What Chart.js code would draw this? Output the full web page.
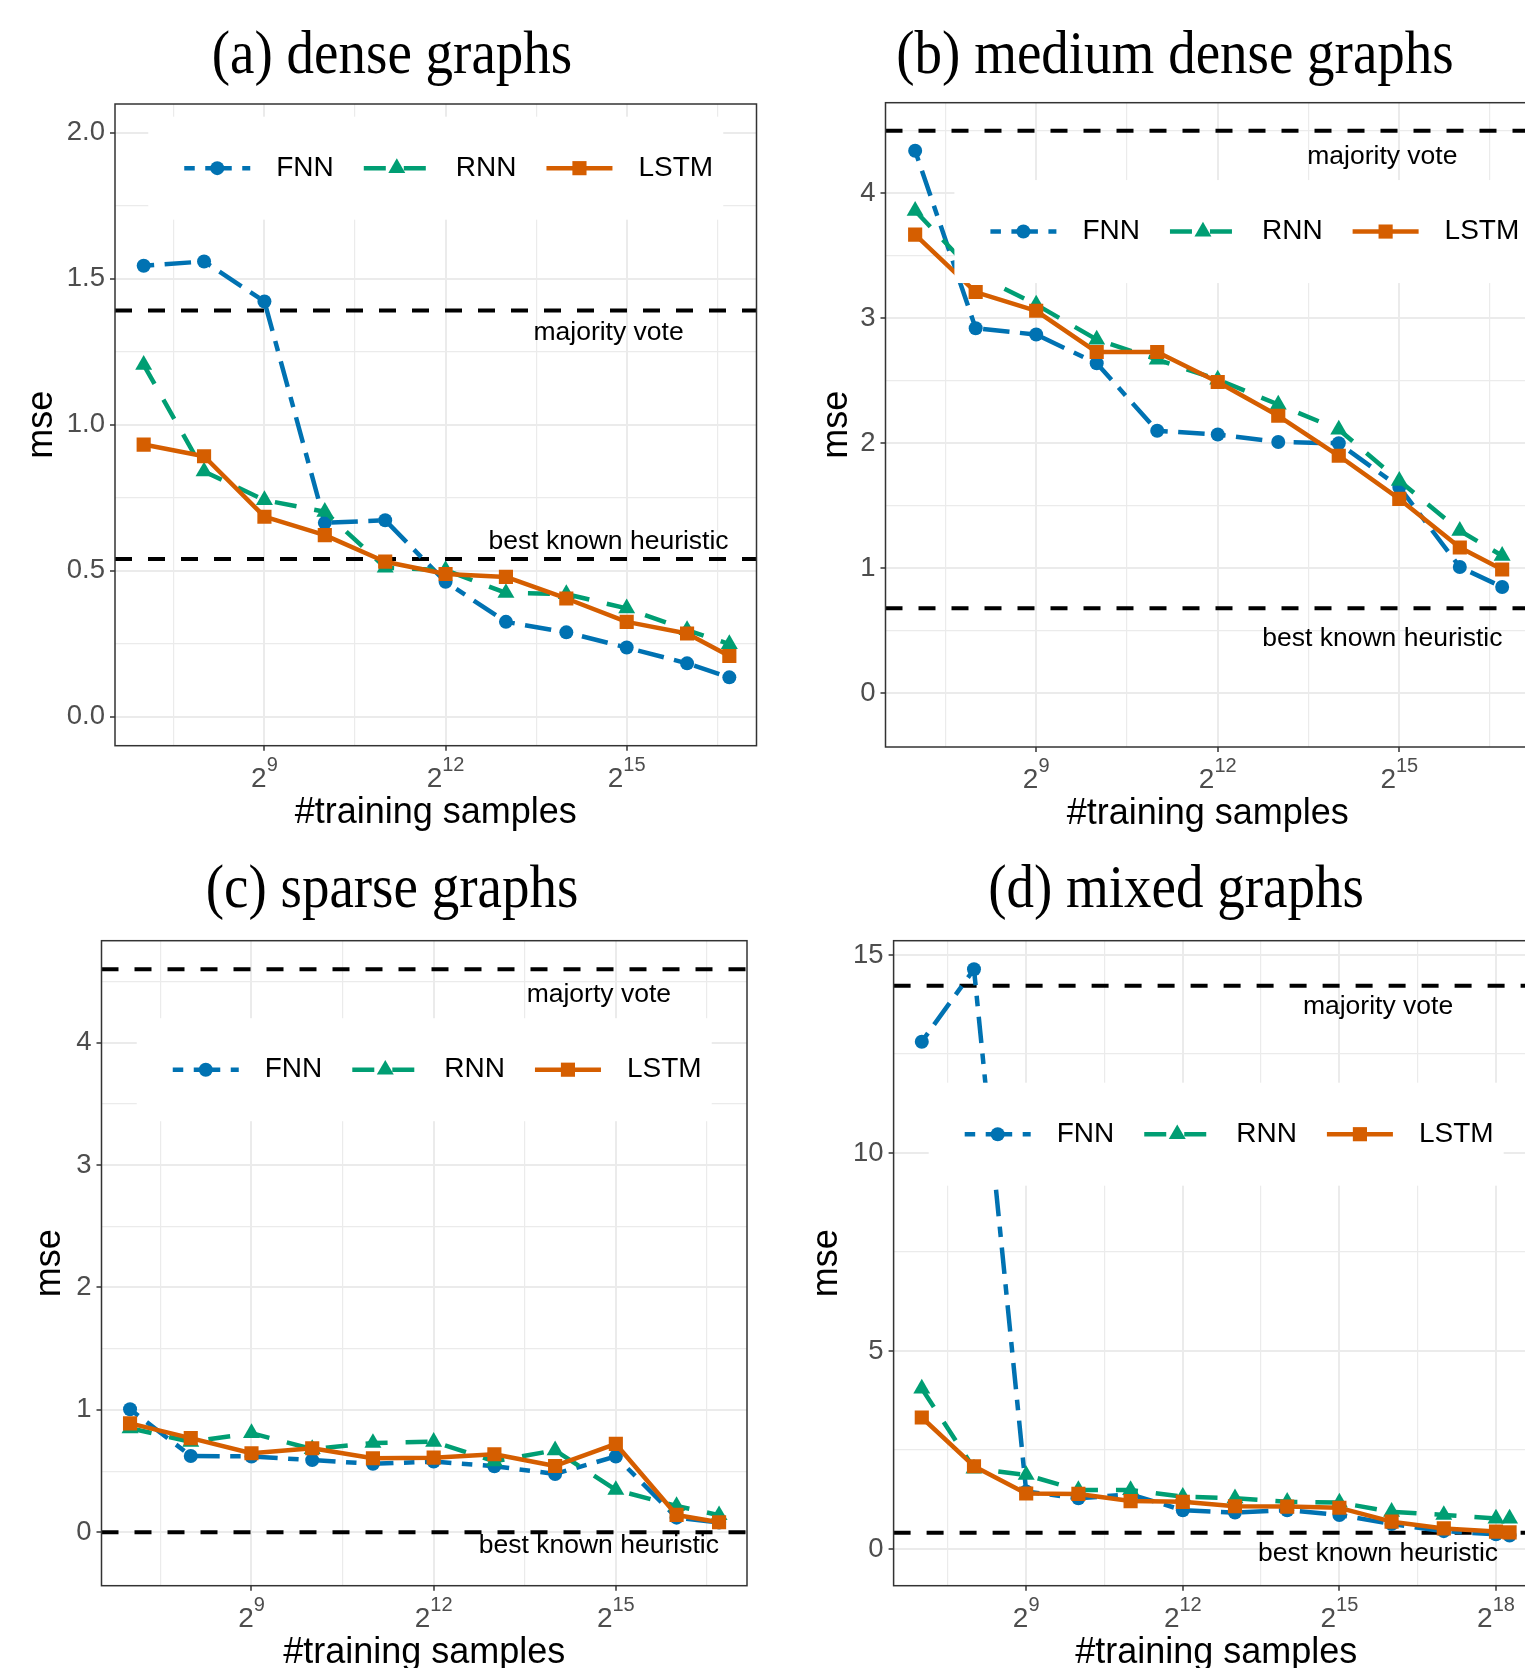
<!DOCTYPE html>
<html>
<head>
<meta charset="utf-8">
<title>mse vs #training samples</title>
<script src="https://cdn.jsdelivr.net/npm/chart.js@4.4.1/dist/chart.umd.min.js"></script>
<style>
  html, body { margin: 0; padding: 0; background: #fff; }
  body { width: 1525px; height: 1668px; position: relative; overflow: hidden; }
  canvas { position: absolute; }
  .title {
    position: absolute;
    font-family: "Liberation Serif", "Times New Roman", serif;
    font-size: 55px;
    line-height: 55px;
    white-space: nowrap;
    color: #000;
    transform: translateX(-50%) scaleY(1.1);
  }
</style>
</head>
<body>
<div class="title" style="left:392px; top:25px;">(a) dense graphs</div>
<div class="title" style="left:1175px; top:25px;">(b) medium dense graphs</div>
<div class="title" style="left:392px; top:859px;">(c) sparse graphs</div>
<div class="title" style="left:1176px; top:859px;">(d) mixed graphs</div>
<canvas id="chartA"></canvas>
<canvas id="chartB"></canvas>
<canvas id="chartC"></canvas>
<canvas id="chartD"></canvas>
<script>
// x values: log2(#training samples)
var xSamples = [7, 8, 9, 10, 11, 12, 13, 14, 15, 16, 16.7];
var xSamplesMixed = [7, 8, 9, 10, 11, 12, 13, 14, 15, 16, 17, 18, 18.26];

// (a) dense graphs
var denseFNN = [1.544, 1.559, 1.422, 0.664, 0.673, 0.462, 0.325, 0.289, 0.237, 0.183, 0.135];
var denseRNN = [1.205, 0.84, 0.742, 0.702, 0.511, 0.502, 0.424, 0.42, 0.371, 0.297, 0.249];
var denseLSTM = [0.932, 0.892, 0.685, 0.622, 0.531, 0.489, 0.479, 0.405, 0.325, 0.285, 0.208];
var denseMajority = 1.391;
var denseBest = 0.54;

// (b) medium dense graphs
var mediumFNN = [4.34, 2.92, 2.87, 2.64, 2.10, 2.07, 2.01, 2.00, 1.65, 1.01, 0.85];
var mediumRNN = [3.86, 3.35, 3.11, 2.83, 2.67, 2.51, 2.31, 2.11, 1.70, 1.30, 1.10];
var mediumLSTM = [3.67, 3.21, 3.06, 2.73, 2.73, 2.49, 2.22, 1.90, 1.555, 1.166, 0.99];
var mediumMajority = 4.5;
var mediumBest = 0.68;

// (c) sparse graphs
var sparseFNN = [1.005, 0.624, 0.62, 0.59, 0.56, 0.578, 0.54, 0.477, 0.62, 0.12, 0.08];
var sparseRNN = [0.85, 0.74, 0.81, 0.68, 0.73, 0.74, 0.58, 0.67, 0.346, 0.215, 0.14];
var sparseLSTM = [0.89, 0.77, 0.646, 0.687, 0.605, 0.61, 0.638, 0.542, 0.722, 0.142, 0.082];
var sparseMajority = 4.6;
var sparseBest = 0.0;

// (d) mixed graphs
var mixedFNN = [12.81, 14.64, 1.45, 1.28, 1.38, 0.98, 0.92, 0.98, 0.86, 0.63, 0.45, 0.37, 0.34];
var mixedRNN = [4.05, 2.03, 1.87, 1.49, 1.49, 1.32, 1.28, 1.19, 1.17, 0.94, 0.86, 0.77, 0.77];
var mixedLSTM = [3.32, 2.09, 1.40, 1.39, 1.21, 1.19, 1.08, 1.07, 1.04, 0.69, 0.52, 0.44, 0.42];
var mixedMajority = 14.22;
var mixedBest = 0.41;

// tick values
var xMajor = [9, 12, 15];
var xMajorMixed = [9, 12, 15, 18];
var xMinor = [7.5, 10.5, 13.5, 16.5];
var yMajorDense = [0, 0.5, 1, 1.5, 2];
var yLabelsDense = ['0.0', '0.5', '1.0', '1.5', '2.0'];
var yMinorDense = [0.25, 0.75, 1.25, 1.75];
var yMajorUnit = [0, 1, 2, 3, 4];
var yLabelsUnit = ['0', '1', '2', '3', '4'];
var yMinorUnit = [0.5, 1.5, 2.5, 3.5, 4.5];
var yMajorMixed = [0, 5, 10, 15];
var yLabelsMixed = ['0', '5', '10', '15'];
var yMinorMixed = [2.5, 7.5, 12.5];

var FONT = '"Liberation Sans", Arial, sans-serif';
Chart.defaults.font.family = FONT;
Chart.defaults.animation = false;

var seriesStyles = {
    FNN:  { color: '#0072B2', dash: [10.5, 10.5, 26.5, 10.5], point: 'circle', radius: 7, order: 2 },
    RNN:  { color: '#009E73', dash: [22, 18], point: 'triangle', radius: 9.8, order: 1 },
    LSTM: { color: '#D55E00', dash: [], point: 'rect', radius: 10, order: 0 }
};

// panel layout (pixel rect of each plot area) and per-panel settings
var panels = [
    {
        id: 'chartA', plot: { l: 115, t: 104, r: 756.5, b: 745.7 }, yGap: 72.5,
        xs: xSamples, fnn: denseFNN, rnn: denseRNN, lstm: denseLSTM,
        majority: denseMajority, best: denseBest,
        xMin: 6.525, xMax: 17.15, yMin: -0.099, yMax: 2.098,
        xMajor: xMajor, yMajor: yMajorDense, yMinor: yMinorDense, yLabels: yLabelsDense,
        majorityText: 'majority vote', noteX: 14.7, majorityNoteY: 1.314, bestNoteY: 0.6,
        legend: { cx: 0.5, cy: 0.1 }
    },
    {
        id: 'chartB', plot: { l: 885.5, t: 102.7, r: 1530, b: 747 }, yGap: 48.5,
        xs: xSamples, fnn: mediumFNN, rnn: mediumRNN, lstm: mediumLSTM,
        majority: mediumMajority, best: mediumBest,
        xMin: 6.51, xMax: 17.16, yMin: -0.43, yMax: 4.725,
        xMajor: xMajor, yMajor: yMajorUnit, yMinor: yMinorUnit, yLabels: yLabelsUnit,
        majorityText: 'majority vote', noteX: 14.72, majorityNoteY: 4.29, bestNoteY: 0.44,
        legend: { cx: 0.553, cy: 0.2 }
    },
    {
        id: 'chartC', plot: { l: 101.5, t: 940.7, r: 747, b: 1585.7 }, yGap: 51.5,
        xs: xSamples, fnn: sparseFNN, rnn: sparseRNN, lstm: sparseLSTM,
        majority: sparseMajority, best: sparseBest,
        xMin: 6.53, xMax: 17.16, yMin: -0.436, yMax: 4.833,
        xMajor: xMajor, yMajor: yMajorUnit, yMinor: yMinorUnit, yLabels: yLabelsUnit,
        majorityText: 'majorty vote', noteX: 14.72, majorityNoteY: 4.39, bestNoteY: -0.11,
        legend: { cx: 0.5, cy: 0.2 }
    },
    {
        id: 'chartD', plot: { l: 893.6, t: 940.7, r: 1538.8, b: 1585.7 }, yGap: 66.2,
        xs: xSamplesMixed, fnn: mixedFNN, rnn: mixedRNN, lstm: mixedLSTM,
        majority: mixedMajority, best: mixedBest,
        xMin: 6.46, xMax: 18.82, yMin: -0.927, yMax: 15.36,
        xMajor: xMajorMixed, yMajor: yMajorMixed, yMinor: yMinorMixed, yLabels: yLabelsMixed,
        majorityText: 'majority vote', noteX: 15.74, majorityNoteY: 13.69, bestNoteY: -0.12,
        legend: { cx: 0.5, cy: 0.3 }
    }
];

function seriesDataset(name, xs, ys) {
    var st = seriesStyles[name];
    return {
        label: name,
        isSeries: true,
        data: xs.map(function (x, i) { return { x: x, y: ys[i] }; }),
        borderColor: st.color,
        backgroundColor: st.color,
        borderWidth: 4.5,
        borderDash: st.dash,
        borderCapStyle: 'butt',
        borderJoinStyle: 'round',
        pointStyle: st.point,
        pointRadius: st.radius,
        pointBackgroundColor: st.color,
        pointBorderWidth: 0,
        tension: 0,
        fill: false,
        order: st.order
    };
}

// horizontal reference line (majority vote / best known heuristic)
function refLineDataset(y, xMin, xMax) {
    return {
        label: '',
        data: [{ x: xMin, y: y }, { x: xMax, y: y }],
        borderColor: '#000',
        borderWidth: 4,
        borderDash: [17, 16],
        borderCapStyle: 'butt',
        pointRadius: 0,
        fill: false,
        order: 3
    };
}

// legend box, reference labels, x tick labels with exponent, panel border
var panelDecor = {
    id: 'panelDecor',
    afterDatasetsDraw: function (chart, args, opts) {
        var ctx = chart.ctx;
        var area = chart.chartArea;
        var xs = chart.scales.x;
        var ys = chart.scales.y;
        ctx.save();

        ctx.font = '26.5px ' + FONT;
        ctx.fillStyle = '#000';
        ctx.textAlign = 'center';
        ctx.textBaseline = 'middle';
        ctx.fillText(opts.majorityText, xs.getPixelForValue(opts.noteX), ys.getPixelForValue(opts.majorityNoteY));
        ctx.fillText('best known heuristic', xs.getPixelForValue(opts.noteX), ys.getPixelForValue(opts.bestNoteY));

        // legend
        var lw = 575, lh = 103;
        var bx = area.left + opts.legend.cx * (area.right - area.left) - lw / 2;
        var by = area.top + opts.legend.cy * (area.bottom - area.top) - lh / 2;
        ctx.fillStyle = '#fff';
        ctx.fillRect(bx, by, lw, lh);
        var cy = by + lh / 2;
        var kx = bx + 36;
        chart.data.datasets.forEach(function (ds) {
            if (!ds.isSeries) return;
            ctx.strokeStyle = ds.borderColor;
            ctx.lineWidth = ds.borderWidth;
            ctx.lineCap = 'butt';
            ctx.setLineDash(ds.borderDash);
            ctx.beginPath();
            ctx.moveTo(kx, cy);
            ctx.lineTo(kx + 66, cy);
            ctx.stroke();
            ctx.setLineDash([]);
            ctx.fillStyle = ds.borderColor;
            Chart.helpers.drawPoint(ctx, { pointStyle: ds.pointStyle, radius: ds.pointRadius, rotation: 0, borderWidth: 0 }, kx + 33, cy);
            ctx.fillStyle = '#000';
            ctx.textAlign = 'left';
            ctx.font = '28px ' + FONT;
            ctx.fillText(ds.label, kx + 92, cy);
            kx += 92 + ctx.measureText(ds.label).width + 30;
        });

        // x tick labels: 2^k
        ctx.fillStyle = '#4D4D4D';
        ctx.textAlign = 'left';
        ctx.textBaseline = 'alphabetic';
        opts.xMajor.forEach(function (v) {
            var px = xs.getPixelForValue(v);
            ctx.font = '28px ' + FONT;
            var wb = ctx.measureText('2').width;
            ctx.font = '20px ' + FONT;
            var we = ctx.measureText(String(v)).width;
            var x0 = px - (wb + we) / 2;
            var yb = area.bottom + 41;
            ctx.font = '28px ' + FONT;
            ctx.fillText('2', x0, yb);
            ctx.font = '20px ' + FONT;
            ctx.fillText(String(v), x0 + wb, yb - 16);
        });

        ctx.strokeStyle = '#333333';
        ctx.lineWidth = 1.5;
        ctx.strokeRect(area.left, area.top, area.right - area.left, area.bottom - area.top);
        ctx.restore();
    }
};

function renderPanel(p) {
    var left = Math.floor(p.plot.l - 100);
    var top = Math.floor(p.plot.t - 30);
    var yw = p.plot.l - left;
    var padTop = p.plot.t - top;
    var width = Math.ceil(p.plot.r - left + 20);
    var height = Math.ceil(p.plot.b - top + 100);
    var padRight = width - (p.plot.r - left);
    var xh = height - (p.plot.b - top);

    var canvas = document.getElementById(p.id);
    canvas.width = width;
    canvas.height = height;
    canvas.style.left = left + 'px';
    canvas.style.top = top + 'px';

    var xTicks = p.xMajor.concat(xMinor);
    var yTicks = p.yMajor.concat(p.yMinor);

    function isMajorX(v) { return p.xMajor.indexOf(v) >= 0; }
    function isMajorY(v) { return p.yMajor.indexOf(v) >= 0; }

    new Chart(canvas.getContext('2d'), {
        type: 'line',
        data: {
            datasets: [
                seriesDataset('FNN', p.xs, p.fnn),
                seriesDataset('RNN', p.xs, p.rnn),
                seriesDataset('LSTM', p.xs, p.lstm),
                refLineDataset(p.majority, p.xMin, p.xMax),
                refLineDataset(p.best, p.xMin, p.xMax)
            ]
        },
        options: {
            responsive: false,
            animation: false,
            events: [],
            layout: { padding: { left: 0, top: padTop, right: padRight, bottom: 0 } },
            plugins: {
                legend: { display: false },
                tooltip: { enabled: false },
                panelDecor: p
            },
            scales: {
                x: {
                    type: 'linear',
                    min: p.xMin,
                    max: p.xMax,
                    afterBuildTicks: function (s) {
                        s.ticks = xTicks.map(function (v) { return { value: v }; });
                    },
                    afterFit: function (s) { s.height = xh; },
                    ticks: { display: false, autoSkip: false },
                    grid: {
                        color: '#EBEBEB',
                        lineWidth: function (c) { return isMajorX(c.tick.value) ? 2 : 1.2; },
                        tickColor: function (c) { return isMajorX(c.tick.value) ? '#333333' : 'rgba(0,0,0,0)'; },
                        tickLength: 5,
                        tickWidth: 1.5
                    },
                    border: { display: false },
                    title: {
                        display: true,
                        text: '#training samples',
                        color: '#000',
                        font: { size: 36 },
                        padding: { top: 0, bottom: xh - 21.6 - 67.5 }
                    }
                },
                y: {
                    type: 'linear',
                    min: p.yMin,
                    max: p.yMax,
                    afterBuildTicks: function (s) {
                        s.ticks = yTicks.map(function (v) { return { value: v }; });
                    },
                    afterFit: function (s) { s.width = yw; },
                    ticks: {
                        autoSkip: false,
                        padding: 5,
                        color: '#4D4D4D',
                        font: { size: 27.5 },
                        callback: function (v) {
                            var i = p.yMajor.indexOf(v);
                            return i >= 0 ? p.yLabels[i] : '';
                        }
                    },
                    grid: {
                        color: '#EBEBEB',
                        lineWidth: function (c) { return isMajorY(c.tick.value) ? 2 : 1.2; },
                        tickColor: function (c) { return isMajorY(c.tick.value) ? '#333333' : 'rgba(0,0,0,0)'; },
                        tickLength: 5,
                        tickWidth: 1.5
                    },
                    border: { display: false },
                    title: {
                        display: true,
                        text: 'mse',
                        color: '#000',
                        font: { size: 36 },
                        padding: { top: yw - p.yGap - 21.6, bottom: 0 }
                    }
                }
            }
        },
        plugins: [panelDecor]
    });
}

panels.forEach(renderPanel);
</script>
</body>
</html>
